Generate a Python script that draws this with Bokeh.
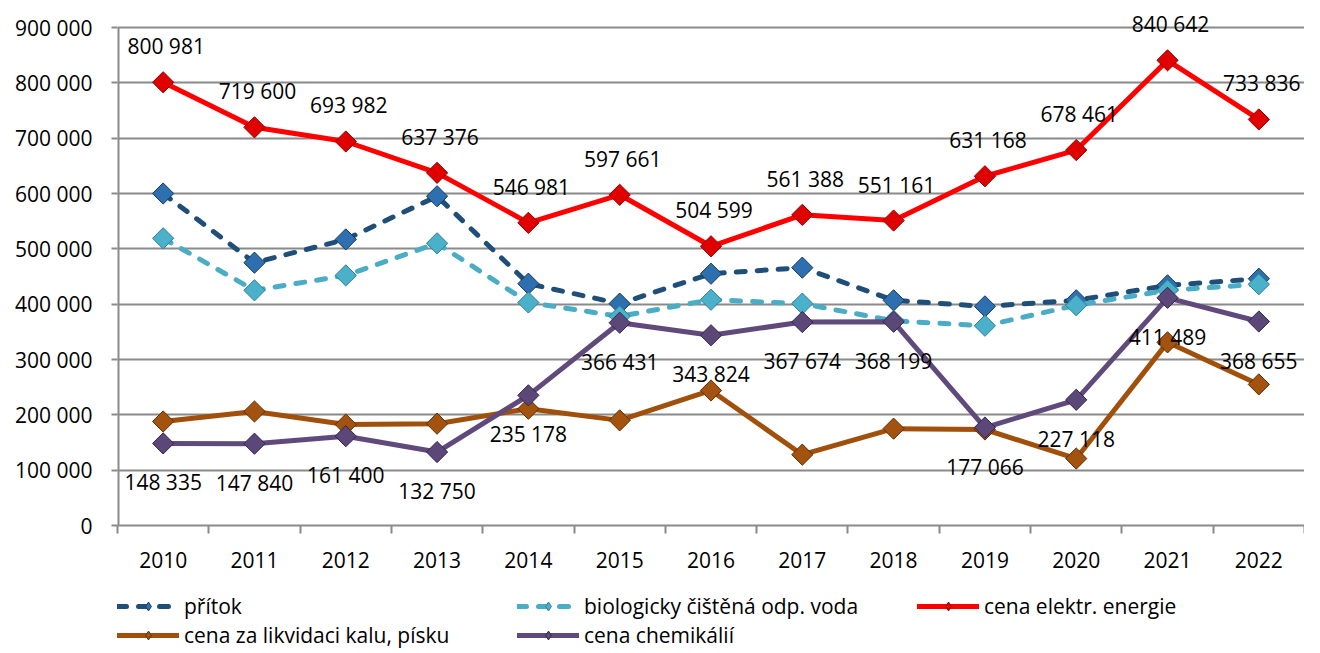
import numpy as np
from bokeh.plotting import figure
from bokeh.layouts import column
from bokeh.models import (ColumnDataSource, Range1d, FixedTicker, Legend, LegendItem,
                          LabelSet)
from bokeh.core.properties import value
from bokeh.embed import file_html
from bokeh.resources import INLINE

years = ["2010", "2011", "2012", "2013", "2014", "2015", "2016", "2017", "2018",
         "2019", "2020", "2021", "2022"]
pritok = [600000, 475000, 517000, 595000, 437000, 401000, 455000, 466000, 407000,
          396000, 407000, 434000, 446000]
bio = [519000, 425000, 452000, 510000, 403000, 378000, 408000, 401000, 370000,
       361000, 398000, 425000, 436000]
elektr = [800981, 719600, 693982, 637376, 546981, 597661, 504599, 561388, 551161,
          631168, 678461, 840642, 733836]
kal = [188000, 206000, 182500, 184000, 211000, 190000, 244000, 128000, 175000,
       173500, 121000, 331000, 255000]
chem = [148335, 147840, 161400, 132750, 235178, 366431, 343824, 367674, 368199,
        177066, 227118, 411489, 368655]
y_ticks = [0, 100000, 200000, 300000, 400000, 500000, 600000, 700000, 800000, 900000]

names = ["přítok", "biologicky čištěná odp. voda", "cena elektr. energie",
         "cena za likvidaci kalu, písku", "cena chemikálií"]

FONT = "Open Sans"
FS = "21px"


def fmt(v):
    return f"{v:,}".replace(",", " ")


x = list(range(len(years)))
y_top = y_ticks[-1] * 525 / 498  # headroom so the top data label is not clipped

p = figure(width=1304, height=580, output_backend="svg", toolbar_location=None,
           x_range=Range1d(-0.5, len(years) - 0.5), y_range=Range1d(0, y_top),
           min_border_left=117, min_border_right=0, min_border_top=0,
           min_border_bottom=55)
p.outline_line_color = None
p.background_fill_color = "white"
p.border_fill_color = "white"

GRAY = "#8a8a8a"
# axes
p.xaxis.ticker = FixedTicker(ticks=x, minor_ticks=[i - 0.5 for i in range(len(years) + 1)])
p.xaxis.major_label_overrides = {i: y for i, y in enumerate(years)}
p.xaxis.major_tick_out = 0
p.xaxis.major_tick_in = 0
p.xaxis.minor_tick_out = 8
p.xaxis.minor_tick_in = 0
p.xaxis.minor_tick_line_color = GRAY
p.xaxis.minor_tick_line_width = 2
p.xaxis.axis_line_color = GRAY
p.xaxis.axis_line_width = 2
p.xaxis.major_label_standoff = 18
p.xaxis.major_label_text_font = FONT
p.xaxis.major_label_text_font_size = FS
p.xaxis.major_label_text_color = "black"

p.yaxis.ticker = FixedTicker(ticks=y_ticks)
p.yaxis.major_label_overrides = {v: fmt(v) for v in y_ticks}
p.yaxis.major_tick_out = 6
p.yaxis.major_tick_in = 0
p.yaxis.minor_tick_out = 0
p.yaxis.minor_tick_in = 0
p.yaxis.major_tick_line_color = GRAY
p.yaxis.major_tick_line_width = 2
p.yaxis.axis_line_color = None
p.yaxis.major_label_standoff = 19
p.yaxis.major_label_text_font = FONT
p.yaxis.major_label_text_font_size = FS
p.yaxis.major_label_text_color = "black"
# visible value-axis line only from 0 to the top tick
p.segment(x0=[-0.5], y0=[y_ticks[0]], x1=[-0.5], y1=[y_ticks[-1]],
          line_color=GRAY, line_width=4)

p.xgrid.grid_line_color = None
p.ygrid.ticker = FixedTicker(ticks=y_ticks)
p.ygrid.grid_line_color = GRAY
p.ygrid.grid_line_width = 2

# legend strip (second figure, no axes)
q = figure(width=1304, height=70, output_backend="svg", toolbar_location=None,
           x_range=Range1d(0, 100), y_range=Range1d(0, 100),
           min_border_left=0, min_border_right=0, min_border_top=0, min_border_bottom=0)
q.axis.visible = False
q.grid.visible = False
q.outline_line_color = None
q.background_fill_color = "white"
q.border_fill_color = "white"

series = [
    (pritok, "#1F4E79", "#2E6FB0", "#163A5C", "9 12"),
    (bio, "#4BACC6", "#4BB0CA", "#2A8098", "9 12"),
    (elektr, "#FF0000", "#E00000", "#900000", None),
    (kal, "#A0500A", "#A3520F", "#5E2E00", None),
    (chem, "#604A7B", "#5C4878", "#33244F", None),
]

items = []
for (vals, lc, fc, oc, dash), name in zip(series, names):
    src = ColumnDataSource(dict(x=x, y=vals))
    kw = dict(line_color=lc, line_width=5, line_join="round", line_cap="round")
    if dash:
        kw["line_dash"] = dash
    p.line("x", "y", source=src, **kw)
    p.scatter("x", "y", source=src, marker="square", angle=np.pi / 4, size=15,
              fill_color=fc, line_color=oc, line_width=1)
    # legend proxies drawn outside the visible range of the strip
    r1 = q.line([-50, -40], [-50, -50], **kw)
    r2 = q.scatter([-50], [-50], marker="diamond", size=20, fill_color=fc,
                   line_color=oc, line_width=1)
    items.append(LegendItem(label=name, renderers=[r1, r2]))

# data labels
src_e = ColumnDataSource(dict(x=x, y=elektr, lab=[fmt(v) for v in elektr]))
p.add_layout(LabelSet(x="x", y="y", text="lab", source=src_e, x_offset=3, y_offset=36,
                      text_align="center", text_baseline="middle", text_font=value(FONT),
                      text_font_size=value(FS), text_color="black"))
src_c = ColumnDataSource(dict(x=x, y=chem, lab=[fmt(v) for v in chem]))
p.add_layout(LabelSet(x="x", y="y", text="lab", source=src_c, x_offset=0, y_offset=-39,
                      text_align="center", text_baseline="middle", text_font=value(FONT),
                      text_font_size=value(FS), text_color="black"))

leg_kw = dict(orientation="horizontal",
              label_text_font=FONT, label_text_font_size=FS, label_text_color="black",
              glyph_width=62, glyph_height=22, label_height=22, label_width=327,
              label_standoff=5, spacing=6, padding=0, margin=0,
              border_line_color=None, background_fill_alpha=0)
q.add_layout(Legend(items=items[:3], location=(0, 30), **leg_kw), "center")
q.add_layout(Legend(items=items[3:], location=(0, 1), **leg_kw), "center")

layout = column(p, q, spacing=0)
open("out.html", "w").write(file_html(layout, INLINE))
